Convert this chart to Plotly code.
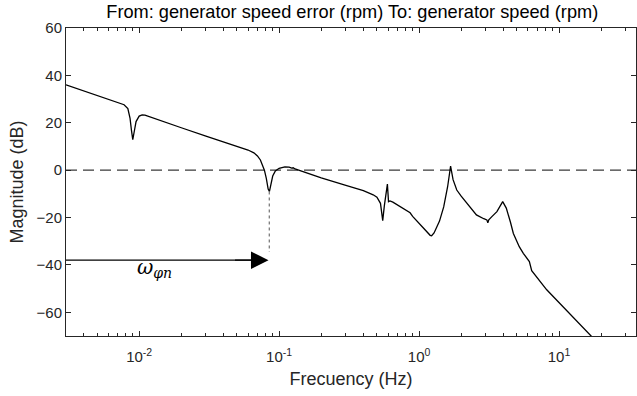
import numpy as np
import plotly.graph_objects as go

freq_hz = [0.003, 0.004, 0.005, 0.006, 0.007, 0.0078, 0.0083, 0.0086, 0.0088, 0.0090,
           0.0092, 0.0095, 0.0100, 0.0105, 0.011, 0.013, 0.02, 0.03, 0.045, 0.06,
           0.066, 0.070, 0.0735, 0.0765, 0.0785, 0.081, 0.0835, 0.0853, 0.0875, 0.090,
           0.094, 0.100, 0.110, 0.118, 0.123, 0.126, 0.13, 0.2, 0.3, 0.4,
           0.47, 0.50, 0.53, 0.55, 0.565, 0.58, 0.594, 0.605, 0.62, 0.65,
           0.75, 0.863, 0.9, 1.0, 1.1, 1.2, 1.23, 1.28, 1.4, 1.5,
           1.6, 1.68, 1.75, 1.86, 2.0, 2.3, 2.57, 2.9, 3.05, 3.1,
           3.15, 3.3, 3.6, 3.96, 4.2, 4.5, 4.72, 5.2, 5.56, 6.14,
           6.38, 8.17, 16.8, 20.0]
mag_db = [36.0, 33.5, 31.6, 30.0, 28.8, 27.6, 26.0, 22.0, 17.0, 12.9,
          16.0, 20.5, 22.8, 23.3, 23.2, 21.8, 17.9, 14.4, 10.9, 8.5,
          7.3, 6.0, 4.3, 2.0, 0.0, -3.5, -8.0, -9.0, -6.0, -2.5,
          -0.3, 0.8, 1.4, 1.3, 0.9, 1.0, 0.5, -3.3, -6.4, -8.6,
          -10.4, -11.4, -14.0, -21.3, -15.0, -9.0, -5.9, -13.3, -13.0, -13.5,
          -15.8, -18.0, -19.5, -22.5, -25.3, -27.5, -27.7, -26.5, -21.5, -15.5,
          -7.0, 1.7, -4.0, -8.4, -11.0, -15.5, -18.9, -20.5, -21.0, -22.2,
          -21.0, -19.7, -17.5, -13.3, -16.0, -22.0, -26.7, -32.3, -35.1, -38.6,
          -42.4, -50.5, -69.9, -74.4]

title_text = "From: generator speed error (rpm) To: generator speed (rpm)"
x_label = "Frecuency (Hz)"
y_label = "Magnitude (dB)"
x_tickvals = [0.01, 0.1, 1, 10]
x_ticktext = ["10<sup>-2</sup>", "10<sup>-1</sup>", "10<sup>0</sup>", "10<sup>1</sup>"]
x_minor_vals = [m * d for d in [0.001, 0.01, 0.1, 1, 10] for m in range(2, 10)]
y_tickvals = [-60, -40, -20, 0, 20, 40, 60]
x_range_hz = [0.003, 35.5]
y_range_db = [-70, 60]

# annotation values
omega_freq = 0.085          # frequency of the marked notch
dotted_db = [-9.0, -34.5]
arrow_db = -38.0
arrow_start_hz = 0.003
arrow_end_hz = 0.084
label_hz = 0.0128
label_db = -41.5

AX = "#262626"
fig = go.Figure()
fig.add_trace(go.Scatter(x=[x_range_hz[0], x_range_hz[1]], y=[0, 0], mode="lines",
                         line=dict(color="#3a3a3a", width=1.1, dash="11px,6px"),
                         showlegend=False, hoverinfo="skip"))
fig.add_trace(go.Scatter(x=freq_hz, y=mag_db, mode="lines",
                         line=dict(color="black", width=1.3), showlegend=False))
fig.add_trace(go.Scatter(x=[omega_freq, omega_freq], y=dotted_db, mode="lines",
                         line=dict(color="#555555", width=1, dash="dot"),
                         showlegend=False, hoverinfo="skip"))
fig.add_trace(go.Scatter(x=[arrow_start_hz, arrow_end_hz * 0.9], y=[arrow_db, arrow_db], mode="lines",
                         line=dict(color="black", width=1.3), showlegend=False, hoverinfo="skip"))
fig.add_annotation(x=np.log10(arrow_end_hz), y=arrow_db, ax=np.log10(arrow_end_hz) - 0.25, ay=arrow_db,
                   xref="x", yref="y", axref="x", ayref="y", text="", showarrow=True,
                   arrowhead=2, arrowsize=2.7, arrowwidth=1.3, arrowcolor="black")
fig.add_annotation(x=np.log10(label_hz), y=label_db, xref="x", yref="y",
                   text="<i>ω</i><sub><i>φn</i></sub>", showarrow=False,
                   font=dict(family="DejaVu Serif", size=20, color="black"))

fig.update_layout(
    width=637, height=396,
    margin=dict(l=66, r=1, t=28, b=60),
    plot_bgcolor="white", paper_bgcolor="white",
    font=dict(family="Liberation Sans, Arial", size=15, color=AX),
    title=dict(text=title_text, x=0.553, xanchor="center", y=0.971, yanchor="middle",
               font=dict(size=18.2, color="black")),
)
fig.update_xaxes(type="log", range=[np.log10(x_range_hz[0]), np.log10(x_range_hz[1])],
                 tickvals=x_tickvals, ticktext=x_ticktext,
                 ticks="inside", ticklen=5, tickcolor=AX, tickwidth=1,
                 ticklabelstandoff=7,
                 minor=dict(tickmode="array", tickvals=x_minor_vals, ticks="inside",
                            ticklen=3, tickcolor=AX, showgrid=False),
                 showline=True, linecolor=AX, linewidth=1, mirror="ticks",
                 showgrid=False, zeroline=False,
                 title=dict(text=x_label, standoff=8, font=dict(size=18)))
fig.update_yaxes(range=y_range_db, tickvals=y_tickvals,
                 ticks="inside", ticklen=5, tickcolor=AX, tickwidth=1,
                 showline=True, linecolor=AX, linewidth=1, mirror="ticks",
                 showgrid=False, zeroline=False,
                 title=dict(text=y_label, standoff=8, font=dict(size=18)))

fig.write_html("out.html")
